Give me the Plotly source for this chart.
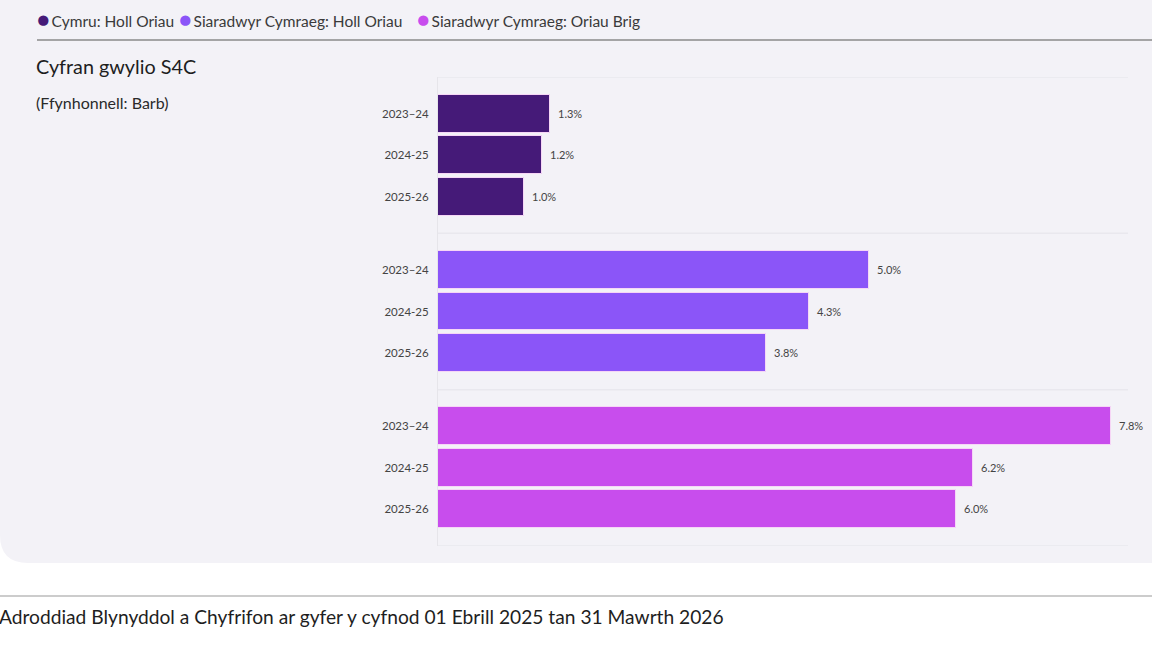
import plotly.graph_objects as go

# ---- data ----
series_names = ["Cymru: Holl Oriau", "Siaradwyr Cymraeg: Holl Oriau", "Siaradwyr Cymraeg: Oriau Brig"]
years = ["2023–24", "2024-25", "2025-26"]
cymru_holl = [1.3, 1.2, 1.0]
siaradwyr_holl = [5.0, 4.3, 3.8]
siaradwyr_brig = [7.8, 6.2, 6.0]
colors = ["#451a78", "#8b55f8", "#c84ded"]

title = "Cyfran gwylio S4C"
source = "(Ffynhonnell: Barb)"
footer = "Adroddiad Blynyddol a Chyfrifon ar gyfer y cyfnod 01 Ebrill 2025 tan 31 Mawrth 2026"

W, H = 1152, 648
L, R, T, B = 438, 24, 77, 102
PW, PH = W - L - R, H - T - B

def px(x):
    return (x - L) / PW

def py(y):
    return (H - B - y) / PH

G = 3.76  # group height in y units
OFF = 0.88
FONT = "Lato, 'Open Sans', sans-serif"

fig = go.Figure()
all_vals = [cymru_holl, siaradwyr_holl, siaradwyr_brig]
tickvals, ticktext = [], []
for g, (vals, col) in enumerate(zip(all_vals, colors)):
    ys = [g * G + OFF + i for i in range(len(vals))]
    tickvals += ys
    ticktext += years
    fig.add_trace(go.Bar(
        x=vals, y=ys, orientation="h", width=0.91,
        marker=dict(color=col, line=dict(color="#f6d6f6", width=1)),
        text=[f"\u2002{v:.1f}%" for v in vals], textposition="outside",
        textfont=dict(size=11, color="#444444", family=FONT),
        cliponaxis=False, showlegend=False, hoverinfo="skip",
    ))

shapes = []
# background panel with rounded bottom-left corner
rad = 28
shapes.append(dict(
    type="path", xref="paper", yref="paper", layer="below",
    path=(f"M {px(0)},{py(0)} L {px(W)},{py(0)} L {px(W)},{py(563)} "
          f"L {px(rad)},{py(563)} Q {px(0)},{py(563)} {px(0)},{py(563 - rad)} Z"),
    fillcolor="#f3f2f7", line=dict(width=0),
))
# group separator grid lines
for k in range(4):
    shapes.append(dict(type="line", xref="paper", yref="y", x0=0, x1=px(1128), y0=k * G, y1=k * G,
                       line=dict(color="#e9e8ee", width=1.5), layer="below"))
# top rule under legend
shapes.append(dict(type="line", xref="paper", yref="paper", x0=px(37), x1=px(W), y0=py(40), y1=py(40),
                   line=dict(color="#8a8a8a", width=1.5)))
# footer rule
shapes.append(dict(type="line", xref="paper", yref="paper", x0=px(0), x1=px(W), y0=py(596), y1=py(596),
                   line=dict(color="#9a9a9a", width=1.2)))

annotations = []
legend_x = [35, 177, 415]
for name, col, lx in zip(series_names, colors, legend_x):
    annotations.append(dict(
        xref="paper", yref="paper", x=px(lx), y=py(19), xanchor="left", yanchor="middle",
        text=f"<span style='color:{col};font-size:21px'>●</span>\u2009{name}", showarrow=False,
        font=dict(size=15.5, color="#3a3a3a", family=FONT),
    ))
annotations.append(dict(xref="paper", yref="paper", x=px(34), y=py(66), xanchor="left", yanchor="middle",
                        text=title, showarrow=False, font=dict(size=19.8, color="#1e1e1e", family=FONT)))
annotations.append(dict(xref="paper", yref="paper", x=px(34), y=py(102), xanchor="left", yanchor="middle",
                        text=source, showarrow=False, font=dict(size=16, color="#2a2a2a", family=FONT)))
annotations.append(dict(xref="paper", yref="paper", x=px(-3), y=py(616), xanchor="left", yanchor="middle",
                        text=footer, showarrow=False, font=dict(size=19.2, color="#1e1e1e", family=FONT)))

fig.update_layout(
    width=W, height=H,
    margin=dict(l=L, r=R, t=T, b=B, pad=0),
    paper_bgcolor="white", plot_bgcolor="rgba(0,0,0,0)",
    bargap=0,
    xaxis=dict(range=[0, 8.0], showgrid=False, showticklabels=False, zeroline=False, ticks="",
               showline=False, fixedrange=True),
    yaxis=dict(range=[3 * G, 0], tickvals=tickvals, ticktext=ticktext, showgrid=False, zeroline=False,
               showline=True, linecolor="#e6e5ea", linewidth=1, ticks="", ticklen=0,
               tickfont=dict(size=11.5, color="#444444", family=FONT), ticklabelstandoff=6),
    shapes=shapes, annotations=annotations,
    font=dict(family=FONT),
)

fig.write_html("out.html")
